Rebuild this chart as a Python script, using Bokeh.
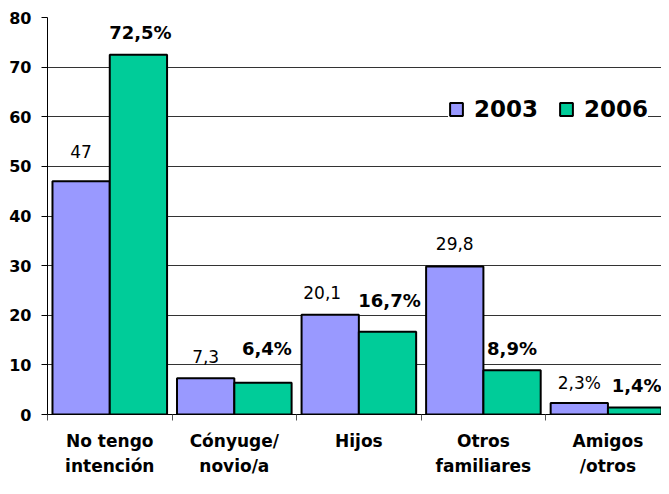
from bokeh.plotting import figure
from bokeh.models import (ColumnDataSource, FixedTicker, Range1d, LabelSet,
                          Legend, LegendItem)
from bokeh.core.properties import value
from bokeh.transform import dodge
from bokeh.embed import file_html
from bokeh.resources import INLINE

# ---- data ----
categories = ["No tengo\nintención", "Cónyuge/\nnovio/a", "Hijos",
              "Otros\nfamiliares", "Amigos\n/otros"]
values_2003 = [47, 7.3, 20.1, 29.8, 2.3]
values_2006 = [72.5, 6.4, 16.7, 8.9, 1.4]
labels_2003 = ["47", "7,3", "20,1", "29,8", "2,3%"]
labels_2006 = ["72,5%", "6,4%", "16,7%", "8,9%", "1,4%"]
series_names = ["2003", "2006"]
y_ticks = [0, 10, 20, 30, 40, 50, 60, 70, 80]
grid_values = [10, 20, 30, 40, 50, 60, 70]

# ---- label styling (screen-pixel nudges, as placed in the original) ----
lift_2003 = [30, 22, 22, 23, 20]
lift_2006 = [22, 34, 31, 22, 22]
nudge_2003 = [0, 0, -8, 0, 0]
nudge_2006 = [2, 4, 2, 0, 0]

n = len(categories)
centers = [i + 0.5 for i in range(n)]
boundaries = [float(i) for i in range(n + 1)]

src = ColumnDataSource(dict(
    x=centers, v03=values_2003, v06=values_2006,
    t03=labels_2003, t06=labels_2006,
    l03=lift_2003, l06=lift_2006, n03=nudge_2003, n06=nudge_2006,
))

p = figure(width=661, height=478, x_range=Range1d(0, 4.93), y_range=Range1d(0, 80),
           output_backend="svg", toolbar_location=None,
           min_border_left=47, min_border_right=0, min_border_top=17, min_border_bottom=60)
p.outline_line_color = None
p.background_fill_color = "white"
p.border_fill_color = "white"

off = 0.23
bw = 0.46
r03 = p.vbar(x=dodge("x", -off), top="v03", width=bw, source=src,
             fill_color="#9999FF", line_color="black", line_width=2)
r06 = p.vbar(x=dodge("x", off), top="v06", width=bw, source=src,
             fill_color="#00CC99", line_color="black", line_width=2)

lab03 = LabelSet(x=dodge("x", -off), y="v03", text="t03", source=src,
                 x_offset="n03", y_offset="l03",
                 text_align="center", text_baseline="middle",
                 text_font=value("DejaVu Sans"), text_font_size=value("17px"),
                 text_color="black")
lab06 = LabelSet(x=dodge("x", off), y="v06", text="t06", source=src,
                 x_offset="n06", y_offset="l06",
                 text_align="center", text_baseline="middle",
                 text_font=value("DejaVu Sans"), text_font_style="bold",
                 text_font_size=value("18px"), text_color="black")
p.add_layout(lab03)
p.add_layout(lab06)

# y axis
p.yaxis.ticker = FixedTicker(ticks=y_ticks)
p.yaxis.major_label_text_font = "DejaVu Sans"
p.yaxis.major_label_text_font_style = "bold"
p.yaxis.major_label_text_font_size = "16px"
p.yaxis.major_label_text_color = "black"
p.yaxis.major_tick_out = 6
p.yaxis.major_tick_in = 0
p.yaxis.minor_tick_line_color = None
p.yaxis.axis_line_color = "black"
p.yaxis.major_tick_line_color = "black"
p.yaxis.major_label_standoff = 10

# x axis
p.xaxis.ticker = FixedTicker(ticks=centers, minor_ticks=boundaries)
p.xaxis.major_label_overrides = {c: lab for c, lab in zip(centers, categories)}
p.xaxis.major_label_text_font = "DejaVu Sans"
p.xaxis.major_label_text_font_style = "bold"
p.xaxis.major_label_text_font_size = "17px"
p.xaxis.major_label_text_color = "black"
p.xaxis.major_label_text_line_height = 1.25
p.xaxis.major_label_standoff = 10
p.xaxis.major_tick_out = 0
p.xaxis.major_tick_in = 0
p.xaxis.minor_tick_out = 6
p.xaxis.minor_tick_in = 0
p.xaxis.minor_tick_line_color = "#555555"
p.xaxis.axis_line_color = "black"

# grid
p.xgrid.visible = False
p.ygrid.ticker = FixedTicker(ticks=grid_values)
p.ygrid.grid_line_color = "#333333"

legend = Legend(items=[LegendItem(label=series_names[0], renderers=[r03]),
                       LegendItem(label=series_names[1], renderers=[r06])],
                location=(401, 292), orientation="horizontal",
                label_text_font="DejaVu Sans", label_text_font_style="bold",
                label_text_font_size="23px", label_text_color="black",
                glyph_width=16, glyph_height=16, label_standoff=10, spacing=20,
                padding=12, margin=0, label_height=24,
                border_line_color=None, background_fill_color="white",
                background_fill_alpha=1.0)
p.add_layout(legend)

open("out.html", "w").write(file_html(p, INLINE))
